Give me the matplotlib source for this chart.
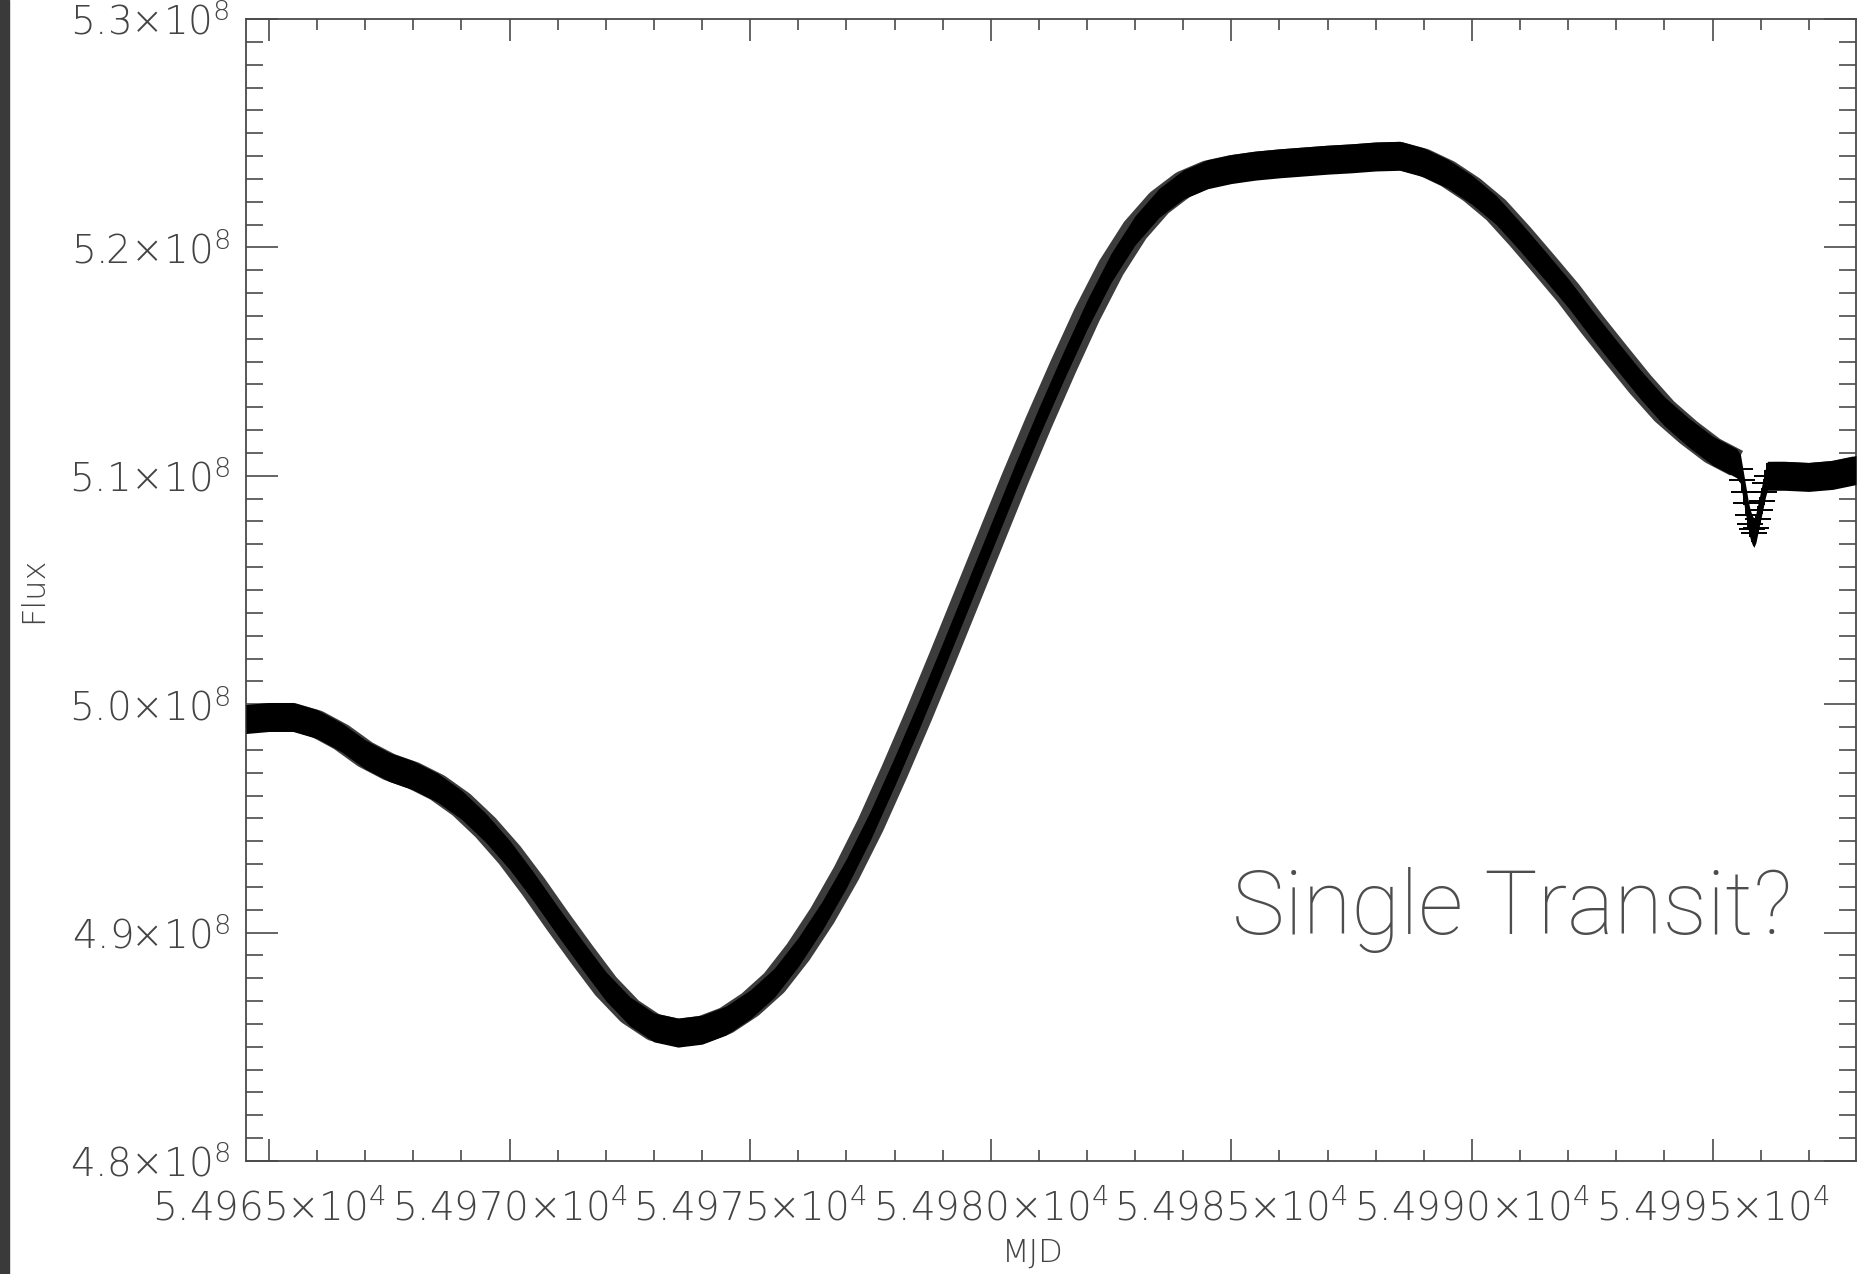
import numpy as np
import matplotlib
matplotlib.use('Agg')
from matplotlib import pyplot as plt
from matplotlib.ticker import MultipleLocator
from matplotlib.patches import Rectangle

# Light curve outside the transit: MJD and flux (flux in units of 1e8)
mjd = np.array([
    54964.52, 54965.0, 54965.5, 54966.0, 54966.5, 54967.0, 54967.5, 54968.0,
    54968.5, 54969.0, 54969.5, 54970.0, 54970.5, 54971.0, 54971.5, 54972.0,
    54972.5, 54973.0, 54973.5, 54974.0, 54974.5, 54975.0, 54975.5, 54976.0,
    54976.5, 54977.0, 54977.5, 54978.0, 54978.5, 54979.0, 54979.5, 54980.0,
    54980.5, 54981.0, 54981.5, 54982.0, 54982.5, 54983.0, 54983.5, 54984.0,
    54984.5, 54985.0, 54985.5, 54986.0, 54986.5, 54987.0, 54987.5, 54988.0,
    54988.5, 54989.0, 54989.5, 54990.0, 54990.5, 54991.0, 54991.5, 54992.0,
    54992.5, 54993.0, 54993.5, 54994.0, 54994.5, 54995.0, 54995.5,
    54996.25, 54996.5, 54997.0, 54997.5, 54997.98])
flux = np.array([
    4.9935, 4.9944, 4.9944, 4.9913, 4.9856, 4.9780, 4.9725, 4.9688,
    4.9635, 4.9560, 4.9460, 4.9340, 4.9200, 4.9050, 4.8905, 4.8765,
    4.8655, 4.8585, 4.8562, 4.8575, 4.8615, 4.8685, 4.8780, 4.8915,
    4.9075, 4.9260, 4.9470, 4.9705, 4.9950, 5.0205, 5.0465, 5.0725,
    5.0985, 5.1235, 5.1475, 5.1705, 5.1910, 5.2075, 5.2195, 5.2275,
    5.2320, 5.2343, 5.2358, 5.2368, 5.2376, 5.2384, 5.2390, 5.2398,
    5.2401, 5.2372, 5.2322, 5.2252, 5.2164, 5.2048, 5.1925, 5.1800,
    5.1662, 5.1530, 5.1400, 5.1282, 5.1190, 5.1110, 5.1055,
    5.1000, 5.1000, 5.0995, 5.1004, 5.1025]) * 1e8

# Points through the transit
dip_mjd = np.array([
    54995.58, 54995.62, 54995.66, 54995.70, 54995.74, 54995.78, 54995.82,
    54995.86, 54995.90, 54995.94, 54995.98, 54996.02, 54996.06, 54996.10,
    54996.14])
dip_flux = np.array([
    5.103, 5.098, 5.093, 5.088, 5.083, 5.079, 5.0765,
    5.075, 5.077, 5.081, 5.085, 5.089, 5.093, 5.097,
    5.100]) * 1e8

xticks = [54965, 54970, 54975, 54980, 54985, 54990, 54995]
xticklabels = ['5.4965×10$^{4}$', '5.4970×10$^{4}$', '5.4975×10$^{4}$',
               '5.4980×10$^{4}$', '5.4985×10$^{4}$', '5.4990×10$^{4}$',
               '5.4995×10$^{4}$']
yticks = [4.8e8, 4.9e8, 5.0e8, 5.1e8, 5.2e8, 5.3e8]
yticklabels = ['4.8×10$^{8}$', '4.9×10$^{8}$', '5.0×10$^{8}$',
               '5.1×10$^{8}$', '5.2×10$^{8}$', '5.3×10$^{8}$']

plt.rcParams['font.family'] = ['DejaVu Sans']
plt.rcParams['font.weight'] = 200
plt.rcParams['axes.labelweight'] = 200
plt.rcParams['mathtext.default'] = 'regular'

grey = '#4a4a4a'
fig = plt.figure(figsize=(18.63, 12.74), dpi=100)
fig.patches.append(Rectangle((0, 0), 9 / 1863, 1, transform=fig.transFigure,
                             color='#3a3a3a', zorder=0))
ax = fig.add_axes([0.1320, 0.0887, 0.8642, 0.8964])
ax.set_xlim(54964.52, 54997.98)
ax.set_ylim(4.8e8, 5.3e8)

# Half height of the plus symbols, in flux units
ax_h = ax.get_position().height * fig.get_figheight() * fig.dpi
half = 14.5 * (5.3e8 - 4.8e8) / ax_h

# Horizontal strokes of the symbols spread the band on steep parts
pre = mjd < dip_mjd[0]
post = mjd > dip_mjd[-1]
for m in (pre, post):
    ax.plot(mjd[m], flux[m], color='#3c3c3c', lw=20, solid_capstyle='butt',
            zorder=2)

all_mjd = np.concatenate([mjd[pre], dip_mjd, mjd[post]])
all_flux = np.concatenate([flux[pre], dip_flux, flux[post]])
ax.fill_between(all_mjd, all_flux - half, all_flux + half, color='k', lw=0,
                zorder=3)
ax.plot(dip_mjd, dip_flux, '+', color='k', ms=19, mew=1.4, zorder=4)

ax.set_xticks(xticks)
ax.set_xticklabels(xticklabels)
ax.set_yticks(yticks)
ax.set_yticklabels(yticklabels)
ax.xaxis.set_minor_locator(MultipleLocator(1))
ax.yaxis.set_minor_locator(MultipleLocator(1e6))

ax.tick_params(which='both', direction='in', top=True, right=True,
               color=grey, width=1.2, labelcolor='#444444', labelsize=28)
ax.tick_params(axis='x', which='major', length=15.8, pad=20)
ax.tick_params(axis='x', which='minor', length=8)
ax.tick_params(axis='y', which='major', length=23, pad=11.5)
ax.tick_params(axis='y', which='minor', length=12)
for s in ax.spines.values():
    s.set_color(grey)
    s.set_linewidth(1.3)

ax.set_xlabel('MJD', fontsize=23, color='#444444')
ax.set_ylabel('Flux', fontsize=23, color='#444444')
ax.xaxis.set_label_coords(0.489, -0.0806)
ax.xaxis.label.set_verticalalignment('center')
ax.yaxis.set_label_coords(-0.132, 0.5)
ax.yaxis.label.set_verticalalignment('center')

ax.text(54985.02, 4.8994e8, 'Single Transit?', fontsize=64, color='#4d4d4d',
        family='Roboto', fontweight=100, ha='left', va='baseline')

fig.savefig('out.png', dpi=100)
